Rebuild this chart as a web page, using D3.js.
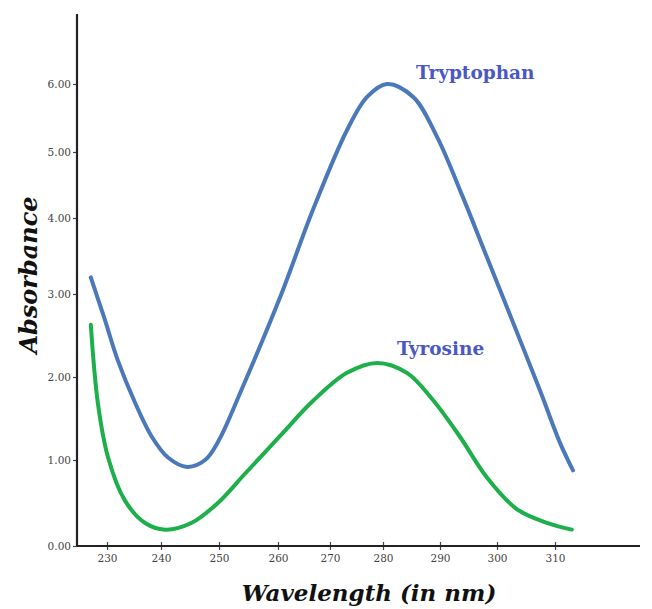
<!DOCTYPE html>
<html>
<head>
<meta charset="utf-8">
<script src="https://cdn.jsdelivr.net/npm/d3@7"></script>
<style>
  body { margin: 0; background: #fff; }
  svg { display: block; }
</style>
</head>
<body>
<svg id="chart"></svg>
<script>
// Data
const xTicks = [230, 240, 250, 260, 270, 280, 290, 300, 310];
const yTicks = [0, 1, 2, 3, 4, 5, 6];

const tryptophanX = [227.0, 229.6, 232.0, 235.2, 238.3, 241.2, 244.5, 247.6, 250.0, 253.6, 260.4, 266.7, 273.2, 277.0, 280.7, 285.3, 289.5, 294.0, 298.2, 302.8, 307.4, 310.9, 313.1];
const tryptophanY = [3.22, 2.69, 2.20, 1.69, 1.28, 1.03, 0.92, 1.00, 1.24, 1.81, 2.96, 4.12, 5.32, 5.81, 6.00, 5.81, 5.22, 4.32, 3.49, 2.65, 1.84, 1.20, 0.88];

const tyrosineX = [227.0, 228.3, 230.2, 233.3, 237.0, 240.7, 245.3, 249.8, 254.4, 260.4, 266.7, 273.2, 278.9, 284.2, 288.8, 293.5, 298.2, 303.4, 308.6, 312.9];
const tyrosineY = [2.63, 1.69, 1.03, 0.53, 0.27, 0.19, 0.27, 0.50, 0.84, 1.29, 1.71, 2.05, 2.17, 2.05, 1.72, 1.28, 0.80, 0.43, 0.27, 0.19];

const width = 652, height = 609;
const svg = d3.select("#chart").attr("width", width).attr("height", height);

// The drawn axes are not evenly spaced, so map each tick to where it sits
const x = d3.scaleLinear()
    .domain(xTicks)
    .range([107, 161, 219, 278, 330, 383, 440, 497, 555]);
const y = d3.scaleLinear()
    .domain(yTicks)
    .range([546, 460, 377, 294, 218, 152, 84]);

const originX = 77, originY = 546;

const line = d3.line()
    .x(d => x(d[0]))
    .y(d => y(d[1]))
    .curve(d3.curveCatmullRom.alpha(0.5));

const series = [
    { name: "Tryptophan", xs: tryptophanX, ys: tryptophanY, color: "#4a78b8" },
    { name: "Tyrosine", xs: tyrosineX, ys: tyrosineY, color: "#1caf4a" }
];

series.forEach(s => {
    svg.append("path")
        .datum(s.xs.map((v, i) => [v, s.ys[i]]))
        .attr("fill", "none")
        .attr("stroke", s.color)
        .attr("stroke-width", 4)
        .attr("stroke-linecap", "round")
        .attr("stroke-linejoin", "round")
        .attr("d", line);
});

// axes
const serif = "'DejaVu Serif', serif";

const yAxis = svg.append("g").attr("transform", `translate(${originX},0)`)
    .call(d3.axisLeft(y).tickValues(yTicks).tickSize(4).tickPadding(2).tickFormat(d3.format(".2f")));
yAxis.select(".domain").remove();
yAxis.selectAll(".tick line").attr("stroke", "#444").attr("stroke-width", 1.2);
yAxis.selectAll(".tick text")
    .attr("fill", "#444").attr("font-size", 10.5)
    .attr("font-family", serif);

const xAxis = svg.append("g").attr("transform", `translate(0,${originY})`)
    .call(d3.axisBottom(x).tickValues(xTicks).tickSize(4).tickPadding(5));
xAxis.select(".domain").remove();
xAxis.selectAll(".tick line").attr("y1", -4).attr("stroke", "#444").attr("stroke-width", 1.2);
xAxis.selectAll(".tick text")
    .attr("fill", "#444").attr("font-size", 10.5)
    .attr("font-family", serif);

svg.append("line")
    .attr("x1", originX).attr("x2", originX)
    .attr("y1", 14).attr("y2", originY)
    .attr("stroke", "#222").attr("stroke-width", 2.2);
svg.append("line")
    .attr("x1", originX).attr("x2", 640)
    .attr("y1", originY).attr("y2", originY)
    .attr("stroke", "#222").attr("stroke-width", 2.2);

// axis titles
svg.append("text")
    .attr("transform", "translate(37,275) rotate(-90)")
    .attr("text-anchor", "middle")
    .attr("font-family", serif)
    .attr("font-style", "italic").attr("font-weight", "bold")
    .attr("font-size", 24).attr("fill", "#111")
    .text("Absorbance");

svg.append("text")
    .attr("x", 369).attr("y", 601)
    .attr("text-anchor", "middle")
    .attr("font-family", serif)
    .attr("font-style", "italic").attr("font-weight", "bold")
    .attr("font-size", 23).attr("fill", "#111")
    .text("Wavelength (in nm)");

// series labels
svg.append("text")
    .attr("x", 416).attr("y", 79)
    .attr("font-family", serif).attr("font-weight", "bold")
    .attr("font-size", 18.5).attr("fill", "#4a58c6")
    .text("Tryptophan");
svg.append("text")
    .attr("x", 397).attr("y", 355)
    .attr("font-family", serif).attr("font-weight", "bold")
    .attr("font-size", 18.5).attr("fill", "#4a58c6")
    .text("Tyrosine");
</script>
</body>
</html>
